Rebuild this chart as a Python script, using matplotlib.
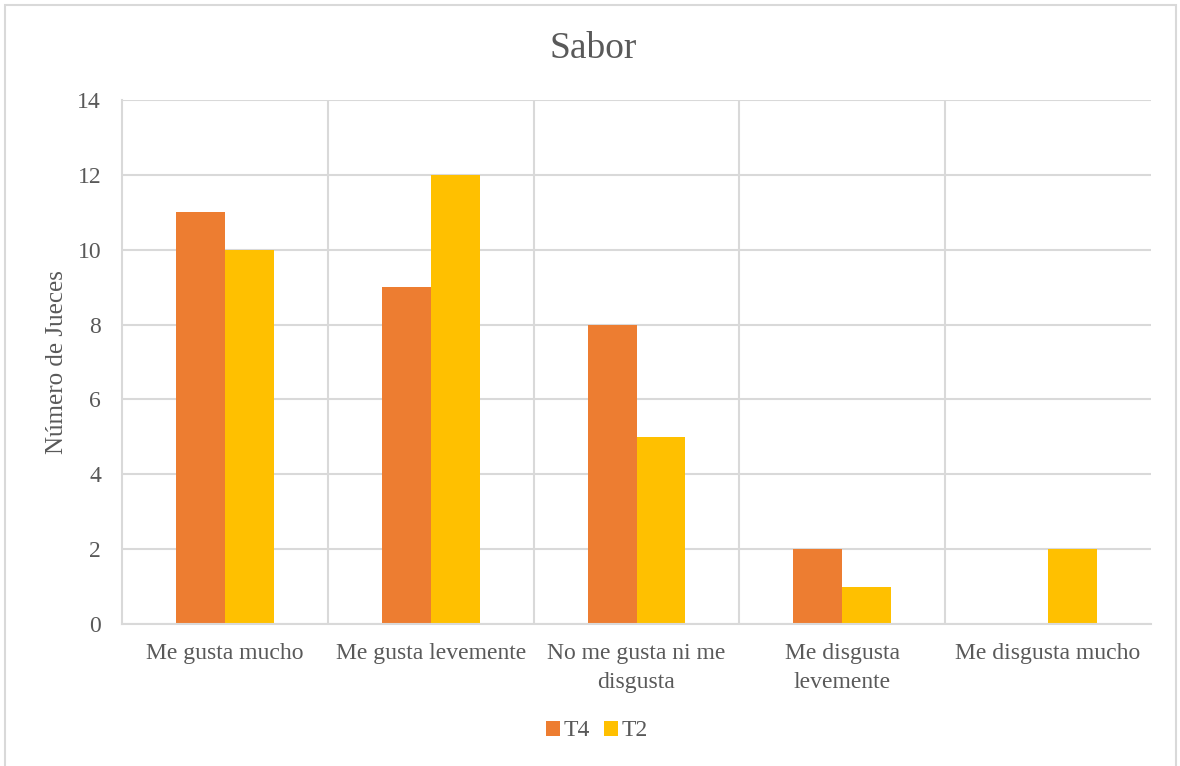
import matplotlib
matplotlib.use("Agg")
import matplotlib.pyplot as plt
import numpy as np
from matplotlib.patches import Rectangle

categories = ["Me gusta mucho", "Me gusta levemente", "No me gusta ni me\ndisgusta",
              "Me disgusta\nlevemente", "Me disgusta mucho"]
t4 = [11, 9, 8, 2, 0]
t2 = [10, 12, 5, 1, 2]
series_names = ["T4", "T2"]
colors = ["#ED7D31", "#FFC000"]
yticks = [0, 2, 4, 6, 8, 10, 12, 14]

plt.rcParams['font.family'] = ['Liberation Serif', 'DejaVu Serif']
txt = "#595959"
grid = "#D9D9D9"

fig = plt.figure(figsize=(11.8, 7.66), dpi=100)
fig.patches.append(Rectangle((5/1180, -0.01), 1171/1180, 1 - 5/766 + 0.01,
                             transform=fig.transFigure, fill=False,
                             edgecolor=grid, linewidth=1.5))
ax = fig.add_axes([122/1180, 1 - 624/766, (1151-122)/1180, (624-100)/766])

x = np.arange(len(categories))
w = 0.238
ax.bar(x - w/2, t4, width=w, color=colors[0], label=series_names[0], zorder=3)
ax.bar(x + w/2, t2, width=w, color=colors[1], label=series_names[1], zorder=3)

ax.set_xlim(-0.5, len(categories) - 0.5)
ax.set_ylim(0, 14)
ax.set_yticks(yticks)
ax.set_yticklabels([str(v) for v in yticks], fontsize=17, color=txt)
ax.set_xticks(x)
ax.set_xticklabels(categories, fontsize=17, color=txt, linespacing=1.5)
ax.tick_params(axis='both', length=0)
ax.tick_params(axis='y', pad=15)
ax.tick_params(axis='x', pad=14)

ax.yaxis.grid(True, color=grid, linewidth=1.5, zorder=0)
for b in np.arange(0.5, len(categories) - 0.5, 1):
    ax.axvline(b, color=grid, linewidth=1.5, zorder=0)
for s in ['top', 'right']:
    ax.spines[s].set_visible(False)
for s in ['left', 'bottom']:
    ax.spines[s].set_color(grid)
    ax.spines[s].set_linewidth(1.5)
ax.spines['bottom'].set_zorder(4)

ax.set_ylabel("Número de Jueces", fontsize=18, color=txt, labelpad=7)
fig.text(593/1180, 1 - 49/766, "Sabor", fontsize=27, color=txt, ha='center', va='center')

leg = fig.legend(loc='center', bbox_to_anchor=(597/1180, 1 - 731/766), ncol=2,
                 frameon=False, fontsize=17, handlelength=0.6, handleheight=0.6,
                 handletextpad=0.15, columnspacing=0.6)
for t in leg.get_texts():
    t.set_color(txt)

fig.savefig("out.png", dpi=100)
